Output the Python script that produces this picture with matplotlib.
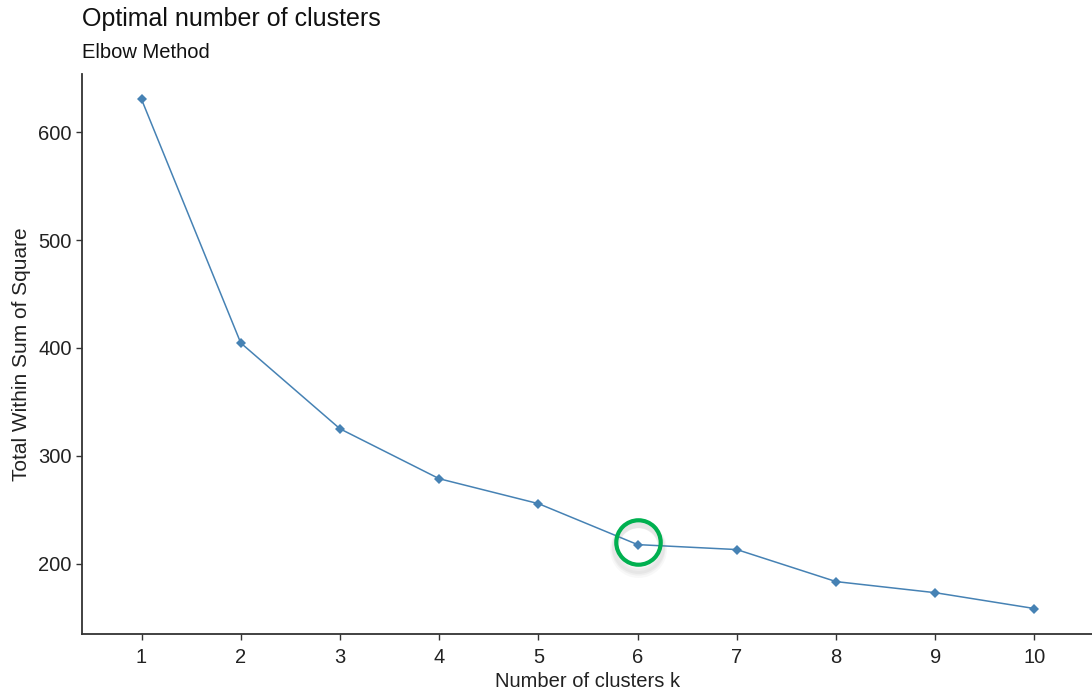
import numpy as np
import matplotlib
matplotlib.use("Agg")
from matplotlib import pyplot as plt

plt.rcParams['font.family'] = ['Liberation Sans', 'DejaVu Sans']

k = [1, 2, 3, 4, 5, 6, 7, 8, 9, 10]
wss = [630.5, 404.6, 325.0, 278.7, 255.6, 217.6, 213.0, 183.3, 173.0, 158.3]
elbow_k = 6

fig = plt.figure(figsize=(10.92, 6.94), dpi=100)
ax = fig.add_axes([82 / 1092, 60 / 694, 1012 / 1092, 560 / 694])

ax.plot(k, wss, color='#4682B4', lw=1.1, marker='D', markersize=5.5,
        markeredgewidth=0, zorder=3)

# highlight circle with soft shadow
i = k.index(elbow_k)
for dy, ms, a in [(-4, 36, 0.05), (-3, 34, 0.07), (-2, 33, 0.08)]:
    ax.plot(k[i], wss[i] + dy, marker='o', markersize=ms,
            markerfacecolor='none', markeredgecolor='gray',
            markeredgewidth=5, alpha=a, zorder=4)
ax.plot(k[i], wss[i] + 2, marker='o', markersize=32,
        markerfacecolor='none', markeredgecolor='#00B050',
        markeredgewidth=3, zorder=5)

ax.set_xlim(0.4, 10.6)
ax.set_ylim(134.7, 654)
ax.set_xticks(k)
ax.set_yticks([200, 300, 400, 500, 600])

for s in ['top', 'right']:
    ax.spines[s].set_visible(False)
for s in ['left', 'bottom']:
    ax.spines[s].set_color('#333333')
    ax.spines[s].set_linewidth(1.3)
ax.tick_params(colors='#333333', length=4, width=1, labelsize=14.5,
               labelcolor='#222222')
ax.tick_params(axis='x', pad=6)

ax.set_xlabel('Number of clusters k', fontsize=14.5, color='#222222', labelpad=4)
ax.set_ylabel('Total Within Sum of Square', fontsize=15, color='#222222',
              labelpad=5)

fig.text(82 / 1092, 1 - 19 / 694, 'Optimal number of clusters', fontsize=18,
         va='center', ha='left', color='#111111')
fig.text(82 / 1092, 1 - 53 / 694, 'Elbow Method', fontsize=14.5,
         va='center', ha='left', color='#111111')

fig.savefig('out.png', dpi=100)
